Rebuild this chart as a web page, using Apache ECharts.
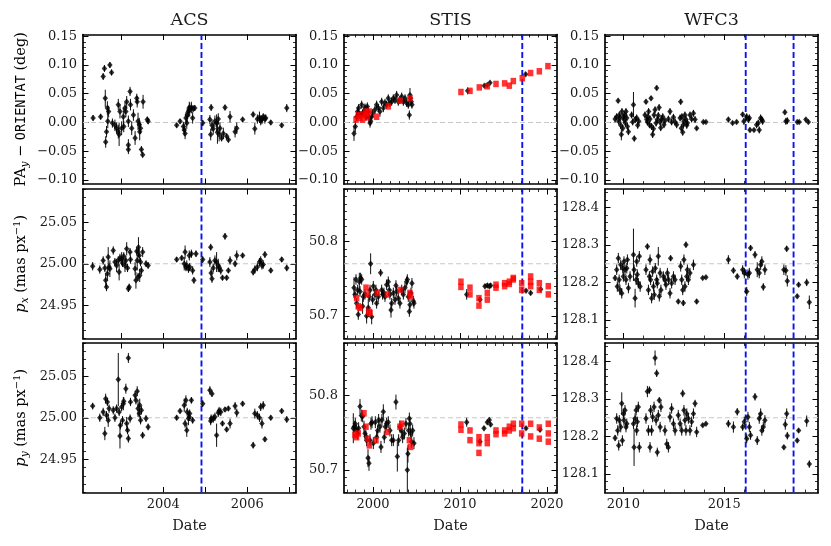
<!DOCTYPE html>
<html>
<head>
<meta charset="utf-8">
<script src="https://cdn.jsdelivr.net/npm/echarts@6/dist/echarts.min.js"></script>
<style>
  html, body { margin: 0; padding: 0; background: #fff; }
  #chart { width: 831px; height: 546px; }
</style>
</head>
<body>
<div id="chart"></div>
<script>
'use strict';
// data: [date, value, error] (error optional -> panel default)

const acsPA = [
  [2002.33,0.008,0.005],[2002.51,0.010,0.005],[2002.57,0.080,0.006],[2002.60,0.094,0.006],[2002.62,0.042,0.015],
  [2002.63,-0.034,0.010],[2002.65,-0.016,0.010],[2002.67,0.025,0.012],[2002.70,0.019,0.010],[2002.68,0.002,0.012],
  [2002.73,0.100,0.005],[2002.77,0.087,0.005],[2002.79,-0.001,0.008],[2002.85,-0.005,0.010],[2002.89,-0.010,0.010],
  [2002.93,-0.016,0.012],[2002.95,-0.021,0.020],[2002.93,0.031,0.010],[2002.97,0.019,0.012],[2003.01,-0.010,0.012],
  [2003.05,0.010,0.015],[2003.06,-0.007,0.010],[2003.11,0.019,0.010],[2003.13,0.036,0.010],[2003.17,-0.039,0.010],
  [2003.17,-0.047,0.008],[2003.09,0.025,0.010],[2003.21,0.054,0.008],[2003.17,0.002,0.010],[2003.22,0.031,0.010],
  [2003.25,-0.010,0.012],[2003.29,0.013,0.010],[2003.33,-0.027,0.012],[2003.37,0.042,0.008],[2003.38,0.036,0.010],
  [2003.40,0.002,0.015],[2003.43,-0.004,0.012],[2003.44,-0.016,0.015],[2003.46,-0.010,0.010],[2003.48,-0.047,0.006],
  [2003.51,-0.056,0.005],[2003.52,0.036,0.012],[2003.62,0.005,0.005],[2003.64,0.002,0.005],
  [2004.32,-0.005,0.004],[2004.40,0.002,0.004],[2004.48,-0.007,0.008],[2004.50,-0.013,0.010],[2004.52,-0.019,0.010],
  [2004.54,0.008,0.010],[2004.56,-0.001,0.010],[2004.57,0.013,0.012],[2004.60,0.019,0.010],[2004.62,0.026,0.010],
  [2004.63,0.022,0.012],[2004.67,0.026,0.010],[2004.70,0.008,0.010],[2004.71,0.024,0.006],[2004.75,0.025,0.005],
  [2004.94,-0.001,0.005],
  [2005.11,0.005,0.008],[2005.13,-0.021,0.010],[2005.14,0.026,0.006],[2005.16,-0.005,0.010],[2005.19,-0.011,0.010],
  [2005.23,0.002,0.010],[2005.27,-0.001,0.015],[2005.29,-0.017,0.020],[2005.31,0.006,0.010],[2005.33,-0.021,0.012],
  [2005.35,-0.010,0.010],[2005.39,-0.027,0.006],[2005.43,-0.019,0.010],[2005.47,0.026,0.005],[2005.51,-0.024,0.005],
  [2005.55,-0.030,0.005],[2005.59,0.010,0.010],[2005.71,-0.016,0.010],[2005.75,-0.010,0.010],[2005.89,0.005,0.004],
  [2006.14,0.014,0.005],[2006.18,-0.011,0.010],[2006.24,0.006,0.008],[2006.29,0.009,0.010],[2006.32,0.003,0.008],
  [2006.35,0.005,0.008],[2006.38,0.010,0.006],[2006.42,0.006,0.008],[2006.44,0.008,0.006],[2006.56,0.000,0.004],
  [2006.82,-0.005,0.004],[2006.94,0.025,0.007]
];

const acsPx = [
  [2002.32,24.997],[2002.49,24.993],[2002.57,25.004],[2002.61,24.995],[2002.63,24.980,0.008],[2002.65,24.972],
  [2002.67,24.988,0.008],[2002.69,25.008,0.012],[2002.71,24.996],[2002.73,24.994,0.010],[2002.81,25.016],[2002.85,25.002],
  [2002.89,24.998,0.008],[2002.93,25.004],[2002.95,24.990,0.010],[2002.97,25.007],[2003.01,25.006,0.008],[2003.03,25.001],
  [2003.06,25.009],[2003.09,24.998,0.008],[2003.11,25.004],[2003.13,25.018,0.008],[2003.15,24.995],[2003.17,24.970,0.004],
  [2003.19,24.972,0.004],[2003.21,25.014],[2003.22,25.005],[2003.33,24.994,0.008],[2003.35,24.980,0.010],[2003.37,25.015],
  [2003.38,25.004,0.012],[2003.40,24.984],[2003.41,25.020,0.012],[2003.43,25.010,0.008],[2003.44,24.986,0.008],
  [2003.46,25.002],[2003.48,24.992],[2003.51,25.014,0.006],[2003.59,25.000,0.004],[2003.64,24.998,0.004],
  [2004.32,25.005,0.003],[2004.44,25.007,0.003],[2004.50,25.000,0.008],[2004.52,25.014,0.008],[2004.54,24.996],
  [2004.56,24.998,0.006],[2004.60,24.994],[2004.62,25.010,0.006],[2004.63,24.996],[2004.67,25.012],[2004.70,24.992],
  [2004.73,24.980,0.004],[2004.78,25.012,0.004],[2004.94,25.005,0.004],
  [2005.11,25.002,0.006],[2005.13,25.020,0.004],[2005.14,24.989],[2005.16,24.982,0.005],[2005.19,24.995],
  [2005.23,25.004,0.006],[2005.27,25.002,0.012],[2005.31,24.998,0.008],[2005.33,24.995],[2005.37,24.992],
  [2005.41,24.983,0.003],[2005.47,25.033,0.004],[2005.51,24.983,0.003],[2005.55,24.992,0.003],[2005.59,25.004,0.005],
  [2005.71,25.000,0.004],[2005.75,25.010,0.006],[2005.89,25.010,0.003],[2006.14,24.990,0.004],[2006.18,24.993,0.005],
  [2006.24,24.996],[2006.29,25.002],[2006.32,25.004],[2006.35,24.998],[2006.38,24.999],[2006.42,25.011,0.004],
  [2006.56,24.992,0.003],[2006.82,25.005,0.003],[2006.94,24.995,0.004]
];

const acsPy = [
  [2002.32,25.014,0.004],[2002.49,25.000],[2002.57,25.007],[2002.61,24.981,0.008],[2002.63,25.023,0.006],[2002.65,25.003],
  [2002.67,25.019],[2002.69,24.997,0.008],[2002.71,25.011],[2002.81,25.009],[2002.85,25.000],[2002.89,25.011],
  [2002.93,25.046,0.032],[2002.95,25.007],[2002.97,24.978,0.015],[2002.98,24.991],[2003.01,25.013],[2003.03,24.997],
  [2003.05,25.017,0.008],[2003.06,25.020],[2003.11,25.035,0.006],[2003.13,24.993,0.008],[2003.15,24.985],[2003.17,24.975,0.005],
  [2003.21,24.999],[2003.22,25.019],[2003.17,25.072,0.006],[2003.33,25.027],[2003.35,25.021],[2003.38,25.032,0.006],
  [2003.40,25.011,0.010],[2003.43,25.005],[2003.44,25.015,0.008],[2003.46,24.997],[2003.48,25.009],[2003.51,24.979,0.004],
  [2003.59,24.999,0.004],[2003.64,24.989,0.004],
  [2004.32,25.000,0.003],[2004.40,25.008,0.003],[2004.50,25.015,0.008],[2004.52,24.993],[2004.54,25.021,0.006],
  [2004.56,24.985,0.008],[2004.57,25.007],[2004.60,24.999,0.008],[2004.62,25.001],[2004.63,25.005],[2004.67,25.021,0.004],
  [2004.70,24.997,0.004],[2004.94,25.017,0.004],
  [2005.11,25.033,0.005],[2005.13,24.996],[2005.14,24.999],[2005.16,25.029,0.004],[2005.19,24.999],[2005.23,25.001],
  [2005.27,24.979,0.014],[2005.31,25.006],[2005.33,25.008],[2005.37,25.007],[2005.41,24.993,0.003],[2005.47,25.010,0.003],
  [2005.51,24.986,0.003],[2005.55,25.011,0.003],[2005.59,24.993,0.006],[2005.71,25.014,0.005],[2005.75,25.006],
  [2005.89,25.017,0.003],[2006.14,24.967,0.004],[2006.18,25.005,0.006],[2006.24,25.003],[2006.29,25.000],[2006.32,25.013],
  [2006.35,24.993,0.006],[2006.38,25.015],[2006.42,24.974,0.003],[2006.56,25.000,0.003],[2006.82,25.008,0.003],
  [2006.94,24.998,0.004]
];

const stisPA = [
  [1997.82,-0.019,0.013],[1997.97,-0.007,0.010],[1998.12,0.010],[1998.24,0.019],[1998.35,0.025],[1998.51,0.013],
  [1998.70,0.031],[1998.81,0.016],[1998.97,0.019],[1999.08,0.026],[1999.20,0.010],[1999.35,0.028],[1999.46,0.019],
  [1999.58,0.008],[1999.66,-0.001,0.008],[1999.73,0.002],[1999.85,0.010],[1999.96,0.016],[2000.23,0.022],[2000.42,0.031],
  [2000.61,0.025],[2000.80,0.019,0.009],[2001.00,0.036],[2001.19,0.025],[2001.38,0.034],[2001.57,0.031],[2001.76,0.042],
  [2001.95,0.034],[2002.15,0.036],[2002.34,0.042],[2002.53,0.039],[2002.72,0.048],[2002.91,0.036],[2003.10,0.039],
  [2003.30,0.045],[2003.49,0.036],[2003.68,0.042],[2003.87,0.034],[2004.06,0.031],[2004.18,0.013,0.008],[2004.25,0.048,0.012],
  [2004.32,0.042],[2004.40,0.036],[2004.48,0.031],
  [2010.88,0.055,0.006],[2012.80,0.064,0.003],[2013.14,0.065,0.003],[2013.45,0.069,0.003],[2017.55,0.084,0.003]
];
const stisPARed = [
  [1998.05,0.005],[1998.31,0.013],[1998.51,0.008],[1998.81,0.005],[1998.97,0.014],[1999.20,0.019],[1999.35,0.009],
  [1999.58,0.019],[2000.42,0.010],[2001.76,0.028],[2003.10,0.038],[2004.25,0.042],
  [2010.11,0.053],[2011.15,0.055],[2012.22,0.061],[2013.14,0.063],[2014.14,0.067],[2015.13,0.068],[2015.67,0.064],
  [2016.13,0.072],[2017.16,0.077],[2018.12,0.086],[2019.12,0.089],[2020.11,0.098]
];

const stisPx = [
  [1997.82,50.738,0.014],[1997.93,50.729],[1998.05,50.749],[1998.12,50.717],[1998.24,50.735],[1998.31,50.702],
  [1998.43,50.746,0.012],[1998.51,50.733],[1998.58,50.751],[1998.70,50.749],[1998.81,50.713,0.010],[1998.89,50.726],
  [1999.08,50.729],[1999.27,50.700,0.010],[1999.46,50.711,0.012],[1999.58,50.726],[1999.66,50.735],[1999.73,50.770,0.014],
  [1999.85,50.699,0.010],[1999.96,50.722],[2000.04,50.740],[2000.23,50.729],[2000.34,50.735],[2000.42,50.717],
  [2000.61,50.726],[2000.88,50.758,0.005],[2001.00,50.735],[2001.11,50.729],[2001.26,50.731],[2001.38,50.726],
  [2001.57,50.742],[2001.76,50.746],[2001.88,50.735],[2001.95,50.729],[2002.07,50.708,0.010],[2002.15,50.717],
  [2002.34,50.731],[2002.53,50.722],[2002.64,50.741],[2002.72,50.733],[2002.91,50.724],[2003.10,50.717],[2003.30,50.735],
  [2003.49,50.729],[2003.68,50.738],[2003.87,50.746],[2003.95,50.749],[2004.06,50.726],[2004.18,50.706],[2004.25,50.715],
  [2004.37,50.731],[2004.48,50.744],[2004.64,50.720],[2004.71,50.717],
  [2010.77,50.729,0.007],[2012.30,50.722,0.004],[2012.87,50.740,0.003],[2013.14,50.741,0.003],[2013.37,50.740,0.003],
  [2013.52,50.741,0.003],[2017.59,50.734,0.002],[2018.12,50.731,0.003],[2019.27,50.736,0.003]
];
const stisPxRed = [
  [1998.12,50.724],[1998.31,50.713],[1998.51,50.711],[1999.20,50.738],[1999.35,50.729],[1999.50,50.706],[1999.66,50.704],
  [2000.50,50.731],[2001.65,50.729],[2003.10,50.735],[2004.25,50.731],[2004.33,50.726],
  [2010.11,50.746],[2010.11,50.739],[2011.15,50.738],[2011.15,50.729],[2012.18,50.724],[2012.18,50.714],
  [2013.14,50.731],[2013.14,50.722],[2014.14,50.742],[2014.14,50.738],[2015.13,50.744],[2015.13,50.740],
  [2015.67,50.746],[2015.67,50.743],[2016.13,50.751],[2016.13,50.749],[2017.09,50.744],[2017.09,50.735],
  [2018.12,50.753],[2018.12,50.746],[2018.12,50.740],[2019.12,50.744],[2019.12,50.735],[2020.15,50.740],[2020.15,50.729]
];

const stisPy = [
  [1997.74,50.756,0.02],[1997.85,50.758],[1997.97,50.762],[1998.12,50.753],[1998.24,50.749],[1998.35,50.756],
  [1998.51,50.785,0.010],[1998.66,50.773],[1998.81,50.772],[1998.97,50.758],[1999.08,50.749],[1999.20,50.745],
  [1999.27,50.740],[1999.43,50.716,0.012],[1999.54,50.709,0.010],[1999.66,50.740],[1999.77,50.762],[1999.89,50.764],
  [2000.04,50.736],[2000.27,50.764],[2000.42,50.744],[2000.54,50.753],[2000.65,50.767],[2000.80,50.758],[2000.92,50.731],
  [2001.03,50.767],[2001.19,50.778,0.010],[2001.30,50.744],[2001.42,50.758],[2001.57,50.762],[2001.76,50.764],
  [2001.95,50.753],[2002.15,50.740],[2002.34,50.740],[2002.64,50.791,0.010],[2002.80,50.718,0.020],[2002.95,50.740],
  [2003.10,50.758],[2003.26,50.753],[2003.41,50.744],[2003.60,50.749],[2003.79,50.762],[2003.95,50.700,0.030],
  [2004.02,50.722,0.012],[2004.10,50.753],[2004.18,50.769],[2004.25,50.762],[2004.33,50.749],[2004.44,50.738],
  [2004.56,50.753],[2004.71,50.736],
  [2010.77,50.764,0.006],[2012.30,50.738,0.004],[2012.76,50.756,0.003],[2013.14,50.764,0.003],[2013.37,50.767,0.003],
  [2013.52,50.761,0.003],[2017.59,50.756,0.002],[2019.20,50.754,0.003]
];
const stisPyRed = [
  [1997.93,50.747],[1998.12,50.744],[1998.31,50.749],[1998.97,50.776],[1999.20,50.758],[1999.39,50.742],[1999.58,50.733],
  [2000.34,50.740],[2001.65,50.751],[2003.10,50.758],[2003.30,50.762],[2004.18,50.740],[2004.33,50.731],
  [2010.11,50.761],[2010.11,50.754],[2011.15,50.753],[2011.15,50.740],[2012.18,50.744],[2012.18,50.736],[2012.18,50.723],
  [2013.14,50.744],[2013.14,50.736],[2014.14,50.753],[2014.14,50.748],[2015.13,50.753],[2015.13,50.749],
  [2015.67,50.758],[2015.67,50.753],[2016.13,50.762],[2016.13,50.756],[2017.09,50.762],[2017.09,50.749],
  [2018.12,50.762],[2018.12,50.745],[2019.12,50.757],[2019.12,50.742],[2020.15,50.762],[2020.15,50.749],[2020.15,50.738]
];

const wfc3PA = [
  [2009.59,0.006],[2009.67,0.010],[2009.74,0.038,0.004],[2009.77,0.002],[2009.80,0.013],[2009.83,0.008],[2009.87,-0.005],
  [2009.90,-0.021,0.010],[2009.93,0.019],[2009.97,-0.010],[2010.00,0.010],[2010.03,0.005],[2010.07,0.013],[2010.10,-0.001],
  [2010.13,0.019],[2010.17,0.008],[2010.20,-0.007],[2010.25,-0.016],[2010.41,0.013],[2010.46,0.001],[2010.50,0.031,0.022],
  [2010.54,-0.028,0.005],[2010.59,0.005],[2010.66,0.008],[2010.71,-0.005],[2010.76,0.002],[2011.07,0.013],[2011.12,0.036,0.004],
  [2011.16,0.005],[2011.19,0.001],[2011.22,0.010],[2011.25,0.019],[2011.29,-0.004],[2011.32,0.006],[2011.37,0.042,0.004],
  [2011.40,-0.007],[2011.45,-0.021],[2011.49,-0.011],[2011.52,0.013],[2011.57,0.022],[2011.62,-0.001],[2011.65,0.060,0.004],
  [2011.68,0.005],[2011.73,0.012],[2011.77,0.026],[2011.82,0.001],[2011.85,-0.009],[2011.90,0.006],[2011.95,0.010],
  [2012.01,-0.004],[2012.06,0.003],[2012.23,0.006],[2012.31,0.019],[2012.39,0.001],[2012.48,0.009],[2012.56,0.001],
  [2012.64,-0.004],[2012.81,0.008],[2012.84,0.036,0.005],[2012.87,-0.010],[2012.90,0.010],[2012.94,-0.017],[2012.97,-0.004],
  [2013.00,0.002],[2013.05,0.013],[2013.10,0.005],[2013.14,-0.005],[2013.17,-0.001],[2013.30,0.013],[2013.38,0.006],
  [2013.47,0.016],[2013.55,0.005],[2013.63,-0.010,0.003],[2013.96,0.001,0.002],[2014.09,0.001,0.002],
  [2015.20,0.005,0.004],[2015.41,-0.001,0.003],[2015.61,0.001,0.003],[2015.91,0.014,0.004],[2015.97,0.002],[2016.11,0.010],
  [2016.19,0.005],[2016.24,0.008],[2016.27,-0.013,0.004],[2016.47,-0.013,0.003],[2016.60,-0.004],[2016.68,-0.001],
  [2016.73,-0.013],[2016.80,0.008],[2016.85,0.005],[2016.90,0.002],[2018.00,0.018,0.004],[2018.05,0.002],[2018.12,0.003],
  [2018.61,0.001,0.002],[2018.71,0.001,0.002],[2019.04,0.005,0.003],[2019.16,0.001,0.003]
];

const wfc3Px = [
  [2009.59,128.212,0.008],[2009.67,128.234],[2009.70,128.189],[2009.75,128.265],[2009.79,128.207],[2009.83,128.180],
  [2009.87,128.247],[2009.92,128.171],[2009.97,128.238],[2010.00,128.216],[2010.03,128.256],[2010.08,128.234],
  [2010.13,128.207],[2010.17,128.238],[2010.20,128.261],[2010.25,128.185],[2010.33,128.216],[2010.50,128.274,0.07],
  [2010.53,128.234],[2010.58,128.158,0.025],[2010.63,128.207],[2010.66,128.256],[2010.69,128.221],[2010.74,128.198],
  [2010.79,128.270],[2010.83,128.189],[2011.12,128.234],[2011.19,128.296,0.008],[2011.24,128.180],[2011.29,128.216],
  [2011.32,128.261],[2011.35,128.207],[2011.40,128.158],[2011.45,128.229],[2011.49,128.189],[2011.53,128.167],
  [2011.58,128.238],[2011.65,128.207],[2011.68,128.198],[2011.73,128.270,0.025],[2011.78,128.163],[2011.82,128.225],
  [2011.86,128.180],[2011.98,128.216],[2012.06,128.207],[2012.11,128.194],[2012.18,128.225],[2012.24,128.207],
  [2012.31,128.171],[2012.34,128.265,0.008],[2012.39,128.198],[2012.48,128.216],[2012.56,128.207],[2012.72,128.149,0.006],
  [2012.84,128.243],[2012.89,128.207],[2012.94,128.180],[2012.97,128.145,0.008],[2013.00,128.261],[2013.05,128.189],
  [2013.10,128.301,0.008],[2013.14,128.216],[2013.17,128.234],[2013.22,128.207],[2013.30,128.225],[2013.47,128.247],
  [2013.63,128.149,0.006],[2013.93,128.212,0.004],[2014.09,128.214,0.004],
  [2015.20,128.261,0.012],[2015.45,128.232,0.008],[2015.64,128.216,0.008],[2015.91,128.234,0.012],[2015.99,128.225],
  [2016.11,128.176,0.012],[2016.17,128.221],[2016.24,128.225],[2016.30,128.292,0.008],[2016.52,128.274,0.010],
  [2016.63,128.234,0.020],[2016.73,128.225],[2016.80,128.247],[2016.86,128.256],[2016.93,128.188,0.010],[2017.01,128.234],
  [2017.95,128.234],[2018.05,128.232],[2018.09,128.290,0.008],[2018.12,128.204,0.015],[2018.61,128.163,0.005],
  [2018.68,128.194,0.006],[2019.08,128.200,0.010],[2019.21,128.147,0.018]
];

const wfc3Py = [
  [2009.59,128.196,0.008],[2009.67,128.248],[2009.72,128.216],[2009.77,128.176],[2009.80,128.243],[2009.87,128.225],
  [2009.92,128.288,0.03],[2009.95,128.189],[2010.00,128.261],[2010.03,128.243],[2010.08,128.270],[2010.13,128.225],
  [2010.17,128.234],[2010.50,128.234],[2010.53,128.171,0.05],[2010.58,128.248],[2010.63,128.270],[2010.66,128.216],
  [2010.69,128.239],[2010.74,128.279],[2010.79,128.171],[2011.12,128.248],[2011.19,128.320,0.015],[2011.24,128.216],
  [2011.29,128.324,0.010],[2011.32,128.171],[2011.35,128.270],[2011.40,128.216],[2011.45,128.252],[2011.52,128.279],
  [2011.57,128.410,0.020],[2011.62,128.243],[2011.65,128.369,0.010],[2011.68,128.158,0.012],[2011.73,128.257],
  [2011.78,128.297,0.008],[2011.82,128.225],[2011.86,128.279],[2012.06,128.216],[2012.15,128.180],[2012.23,128.171],
  [2012.31,128.252],[2012.39,128.275],[2012.48,128.234],[2012.56,128.216],[2012.72,128.257],[2012.81,128.234],
  [2012.89,128.216],[2012.94,128.315,0.010],[2013.00,128.270],[2013.05,128.243],[2013.10,128.216],[2013.14,128.261],
  [2013.22,128.248],[2013.30,128.216],[2013.38,128.239],[2013.47,128.261],[2013.55,128.288,0.010],[2013.63,128.212],
  [2013.93,128.230,0.004],[2014.09,128.234,0.004],
  [2015.20,128.234,0.010],[2015.45,128.225,0.015],[2015.64,128.266,0.010],[2015.91,128.225,0.010],[2015.99,128.239],
  [2016.11,128.194,0.012],[2016.17,128.252],[2016.24,128.225],[2016.30,128.203,0.012],[2016.52,128.306,0.010],
  [2016.63,128.189,0.012],[2016.73,128.248],[2016.80,128.261],[2016.86,128.216],[2016.93,128.225],[2017.01,128.243],
  [2017.95,128.171,0.006],[2018.02,128.232],[2018.09,128.261],[2018.12,128.202,0.010],[2018.61,128.189,0.005],
  [2018.68,128.216,0.005],[2019.08,128.241,0.015],[2019.21,128.126,0.010]
];

// vertical event lines and reference levels
const acsBlue = [2004.91];
const stisBlue = [2017.16];
const wfc3Blue = [2016.06, 2018.43];
const paRef = 0.0;
const acsRef = 25.0;
const stisRef = 50.77;
const wfc3Ref = 128.25;

// tick values
const acsYears = [2003, 2004, 2005, 2006, 2007];
const acsYearLabels = [2004, 2006];
const stisYears = [2000, 2010, 2020];
const wfc3Years = [2010, 2015];
const paTicks = [-0.10, -0.05, 0.00, 0.05, 0.10, 0.15];
const acsPTicks = [24.95, 25.00, 25.05];
const stisPTicks = [50.7, 50.8];
const wfc3PTicks = [128.1, 128.2, 128.3, 128.4];

const titles = ['ACS', 'STIS', 'WFC3'];

// layout
const colLeft = [83, 344, 605];
const colWidth = 213;
const rowTop = [34.5, 189, 343];
const rowHeight = 149.5;

const SERIF = 'DejaVu Serif';
const TXT = '#1a1a1a';

function steps(lo, hi, step) {
  const out = [];
  const n0 = Math.ceil(lo / step - 1e-9), n1 = Math.floor(hi / step + 1e-9);
  for (let n = n0; n <= n1; n++) out.push(+(n * step).toFixed(6));
  return out;
}

const xRanges = [[2002.09, 2007.16], [1996.67, 2021.15], [2009.09, 2019.64]];
const xMajors = [acsYears, stisYears, wfc3Years];
const xLabels = [acsYearLabels, stisYears, wfc3Years];
const xMinorStep = [null, 1, 1];

const panels = [
  {col: 0, row: 0, y: [-0.107, 0.153], ticks: paTicks, minor: 0.01, dec: 2, pts: acsPA, red: null, ref: paRef, blue: acsBlue, err: 0.008},
  {col: 0, row: 1, y: [24.91, 25.09], ticks: acsPTicks, minor: 0.01, dec: 2, pts: acsPx, red: null, ref: acsRef, blue: acsBlue, err: 0.005},
  {col: 0, row: 2, y: [24.91, 25.09], ticks: acsPTicks, minor: 0.01, dec: 2, pts: acsPy, red: null, ref: acsRef, blue: acsBlue, err: 0.005},
  {col: 1, row: 0, y: [-0.107, 0.153], ticks: paTicks, minor: 0.01, dec: 2, pts: stisPA, red: stisPARed, ref: paRef, blue: stisBlue, err: 0.007},
  {col: 1, row: 1, y: [50.67, 50.87], ticks: stisPTicks, minor: 0.01, dec: 1, pts: stisPx, red: stisPxRed, ref: stisRef, blue: stisBlue, err: 0.007},
  {col: 1, row: 2, y: [50.67, 50.87], ticks: stisPTicks, minor: 0.01, dec: 1, pts: stisPy, red: stisPyRed, ref: stisRef, blue: stisBlue, err: 0.008},
  {col: 2, row: 0, y: [-0.107, 0.153], ticks: paTicks, minor: 0.01, dec: 2, pts: wfc3PA, red: null, ref: paRef, blue: wfc3Blue, err: 0.006},
  {col: 2, row: 1, y: [128.05, 128.45], ticks: wfc3PTicks, minor: 0.02, dec: 1, pts: wfc3Px, red: null, ref: wfc3Ref, blue: wfc3Blue, err: 0.014},
  {col: 2, row: 2, y: [128.05, 128.45], ticks: wfc3PTicks, minor: 0.02, dec: 1, pts: wfc3Py, red: null, ref: wfc3Ref, blue: wfc3Blue, err: 0.014}
];

const fmt = (v, d) => v.toFixed(d).replace('-', '\u2212');

const grids = [], xAxes = [], yAxes = [], series = [];

function axisPair(gi, range, major, minor, labels, side, dec) {
  const base = {
    type: 'value', gridIndex: gi, min: range[0], max: range[1], position: side,
    splitLine: {show: false}, axisPointer: {show: false}, silent: true
  };
  const main = Object.assign({}, base, {
    axisLine: {show: true, onZero: false, lineStyle: {color: '#000', width: 1.7}},
    axisTick: {show: true, inside: true, length: 5.5, customValues: major, lineStyle: {color: '#000', width: 1}},
    axisLabel: labels ? {
      show: true, customValues: labels, margin: 6, color: TXT, fontFamily: SERIF, fontSize: 13,
      formatter: v => fmt(v, dec)
    } : {show: false}
  });
  const out = [main];
  if (minor && minor.length) {
    out.push(Object.assign({}, base, {
      axisLine: {show: false, onZero: false},
      axisTick: {show: true, inside: true, length: 3, customValues: minor, lineStyle: {color: '#000', width: 0.8}},
      axisLabel: {show: false}
    }));
  }
  return out;
}

panels.forEach(p => {
  const gi = grids.length;
  grids.push({left: colLeft[p.col], top: rowTop[p.row], width: colWidth, height: rowHeight, containLabel: false});
  const xr = xRanges[p.col];
  const xMaj = xMajors[p.col];
  const xMin = xMinorStep[p.col] ? steps(xr[0], xr[1], xMinorStep[p.col]).filter(v => xMaj.indexOf(v) < 0) : [];
  const yMin = steps(p.y[0], p.y[1], p.minor).filter(v => !p.ticks.some(t => Math.abs(t - v) < 1e-6));

  const xi = xAxes.length;
  axisPair(gi, xr, xMaj, xMin, p.row === 2 ? xLabels[p.col] : null, 'bottom', 0).forEach(a => xAxes.push(a));
  axisPair(gi, xr, xMaj, xMin, null, 'top', 0).forEach(a => xAxes.push(a));
  const yi = yAxes.length;
  axisPair(gi, p.y, p.ticks, yMin, p.ticks, 'left', p.dec).forEach(a => yAxes.push(a));
  axisPair(gi, p.y, p.ticks, yMin, null, 'right', p.dec).forEach(a => yAxes.push(a));

  // gray dashed reference level
  series.push({
    type: 'line', xAxisIndex: xi, yAxisIndex: yi, silent: true, symbol: 'none', z: 1,
    data: [[xr[0], p.ref], [xr[1], p.ref]],
    lineStyle: {color: '#c8c8c8', width: 1.1, type: [5, 3]}
  });
  // blue dashed event lines
  p.blue.forEach(b => {
    series.push({
      type: 'line', xAxisIndex: xi, yAxisIndex: yi, silent: true, symbol: 'none', z: 2,
      data: [[b, p.y[0]], [b, p.y[1]]],
      lineStyle: {color: '#0a14f0', width: 1.9, type: [6, 3]}
    });
  });
  const rows = p.pts.map(d => [d[0], d[1], d.length > 2 ? d[2] : p.err]);
  // error bars
  series.push({
    type: 'custom', xAxisIndex: xi, yAxisIndex: yi, silent: true, z: 3, clip: true,
    data: rows,
    renderItem: (params, api) => {
      const x = api.value(0), y = api.value(1), e = api.value(2);
      const a = api.coord([x, y - e]), b = api.coord([x, y + e]);
      return {type: 'line', shape: {x1: a[0], y1: a[1], x2: b[0], y2: b[1]}, style: {stroke: '#111', lineWidth: 1}};
    }
  });
  series.push({
    type: 'scatter', xAxisIndex: xi, yAxisIndex: yi, silent: true, z: 4,
    data: rows.map(r => [r[0], r[1]]),
    symbol: 'diamond', symbolSize: [5.5, 6.5],
    itemStyle: {color: '#000'}
  });
  if (p.red) {
    series.push({
      type: 'scatter', xAxisIndex: xi, yAxisIndex: yi, silent: true, z: 5,
      data: p.red, symbol: 'rect', symbolSize: [5.5, 6.5],
      itemStyle: {color: '#ff0000'}
    });
  }
});

// titles, x labels, y labels
const graphics = [];
titles.forEach((t, c) => {
  const cx = colLeft[c] + colWidth / 2;
  graphics.push({type: 'text', x: cx, y: 20, silent: true,
    style: {text: t, x: 0, y: 0, fill: TXT, font: '17.5px "' + SERIF + '"', align: 'center', verticalAlign: 'middle', textAlign: 'center', textVerticalAlign: 'middle'}});
  graphics.push({type: 'text', x: cx, y: 526, silent: true,
    style: {text: 'Date', x: 0, y: 0, fill: TXT, font: '14.5px "' + SERIF + '"', align: 'center', verticalAlign: 'middle', textAlign: 'center', textVerticalAlign: 'middle'}});
});

const rich = {
  r: {fontFamily: SERIF, fontSize: 14.5, color: TXT, lineHeight: 22},
  i: {fontFamily: SERIF, fontStyle: 'italic', fontSize: 14.5, color: TXT, lineHeight: 22},
  s: {fontFamily: SERIF, fontStyle: 'italic', fontSize: 10.5, color: TXT, lineHeight: 22, verticalAlign: 'bottom', padding: [0, 0, 1, 0]},
  u: {fontFamily: SERIF, fontSize: 10, color: TXT, lineHeight: 22, verticalAlign: 'top', padding: [2, 0, 0, 0]},
  m: {fontFamily: 'DejaVu Sans Mono', fontSize: 13.5, color: TXT, lineHeight: 22}
};
const yNames = [
  '{r|PA}{s|y}{r| \u2212 }{m|ORIENTAT}{r| (deg)}',
  '{i|p}{s|x}{r| (mas px}{u|\u22121}{r|)}',
  '{i|p}{s|y}{r| (mas px}{u|\u22121}{r|)}'
];
yNames.forEach((t, r) => {
  graphics.push({type: 'text', x: 21, y: rowTop[r] + rowHeight / 2, rotation: Math.PI / 2, silent: true,
    style: {text: t, rich: rich, x: 0, y: 0, align: 'center', verticalAlign: 'middle', textAlign: 'center', textVerticalAlign: 'middle'}});
});

const chart = echarts.init(document.getElementById('chart'), null, {renderer: 'canvas'});
chart.setOption({
  animation: false,
  backgroundColor: '#fff',
  grid: grids,
  xAxis: xAxes,
  yAxis: yAxes,
  series: series,
  graphic: graphics
});
</script>
</body>
</html>
